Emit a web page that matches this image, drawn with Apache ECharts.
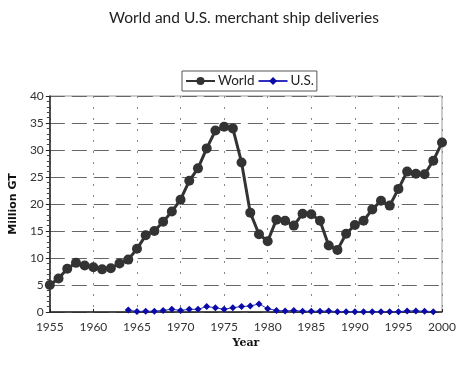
<!DOCTYPE html>
<html><head><meta charset="utf-8">
<script src="https://cdn.jsdelivr.net/npm/echarts@6/dist/echarts.min.js"></script>
<style>html,body{margin:0;padding:0;background:#fff}#c{width:467px;height:367px}</style>
</head><body><div id="c"></div>
<script>
const years = [];
for (let y = 1955; y <= 2000; y++) years.push(y);
const worldValues = [5.0,6.2,8.0,9.1,8.6,8.3,7.9,8.1,9.0,9.7,11.7,14.2,15.0,16.7,18.6,20.8,24.3,26.6,30.3,33.6,34.3,34.0,27.7,18.4,14.4,13.1,17.1,16.9,16.0,18.2,18.1,16.9,12.3,11.5,14.5,16.1,16.9,19.0,20.6,19.7,22.8,26.0,25.6,25.5,28.0,31.4];
const usYears = years.filter(y => y >= 1964);
const usValues = [0.35,0.1,0.15,0.15,0.3,0.5,0.3,0.5,0.5,1.0,0.8,0.5,0.8,1.0,1.1,1.5,0.6,0.3,0.2,0.3,0.15,0.15,0.15,0.2,0.05,0.05,0.05,0.05,0.05,0.05,0.05,0.05,0.2,0.2,0.15,0.05];
const xTicks = [1955,1960,1965,1970,1975,1980,1985,1990,1995,2000];
const yTicks = [0,5,10,15,20,25,30,35,40];

const chart = echarts.init(document.getElementById('c'));
const lblFont = 'Lato, "Open Sans", sans-serif';
chart.setOption({
  animation: false,
  title: { text: 'World and U.S. merchant ship deliveries', left: 104, top: 5,
    textStyle: { fontFamily: lblFont, fontSize: 15.5, fontWeight: 'normal', color: '#222' } },
  legend: { top: 71, left: 182, itemWidth: 29, itemHeight: 10, itemGap: 3,
    borderColor: '#555', borderWidth: 1, padding: [3, 3, 3, 3],
    textStyle: { fontFamily: lblFont, fontSize: 13.5, color: '#222', padding: [0,0,0,-2] },
    data: ['World', 'U.S.'] },
  grid: { left: 46, right: 25, top: 96, bottom: 55, show: true, borderColor: '#999', borderWidth: 1 },
  xAxis: { type: 'value', min: 1955, max: 2000, interval: 5,
    name: 'Year', nameLocation: 'middle', nameGap: 21,
    nameTextStyle: { fontFamily: 'DejaVu Serif, serif', fontWeight: 'bold', fontSize: 11, color: '#111' },
    axisLine: { lineStyle: { color: '#222', width: 1.5 } },
    axisTick: { show: true, inside: true, length: 3, lineStyle: { color: '#222' } },
    axisLabel: { fontFamily: lblFont, fontSize: 12, color: '#333', margin: 9,
      formatter: v => String(v) },
    splitLine: { show: true, lineStyle: { color: '#888', type: [2, 9], width: 1 } } },
  yAxis: { type: 'value', min: 0, max: 40, interval: 5,
    name: 'Million GT', nameLocation: 'middle', nameGap: 28,
    nameTextStyle: { fontFamily: 'DejaVu Sans, sans-serif', fontWeight: 'bold', fontSize: 11, color: '#111' },
    axisLine: { show: true, lineStyle: { color: '#222', width: 1.5 } },
    axisTick: { show: true, inside: false, length: 4, lineStyle: { color: '#222' } },
    minorTick: { show: true, splitNumber: 5, length: 3, lineStyle: { color: '#444' } },
    axisLabel: { fontFamily: lblFont, fontSize: 12, color: '#333', margin: 6 },
    splitLine: { show: true, lineStyle: { color: '#666', type: [15, 7], width: 1.2 } } },
  series: [
    { name: 'World', type: 'line', data: years.map((y, i) => [y, worldValues[i]]),
      symbol: 'circle', symbolSize: 10, color: '#333',
      lineStyle: { color: '#333', width: 3 }, itemStyle: { color: '#333' }, z: 3 },
    { name: 'U.S.', type: 'line', data: usYears.map((y, i) => [y, usValues[i]]),
      symbol: 'diamond', symbolSize: 7, color: '#1010b0',
      lineStyle: { color: '#3030c0', width: 1 }, itemStyle: { color: '#0a0aa8' }, z: 4 }
  ]
});
</script></body></html>
